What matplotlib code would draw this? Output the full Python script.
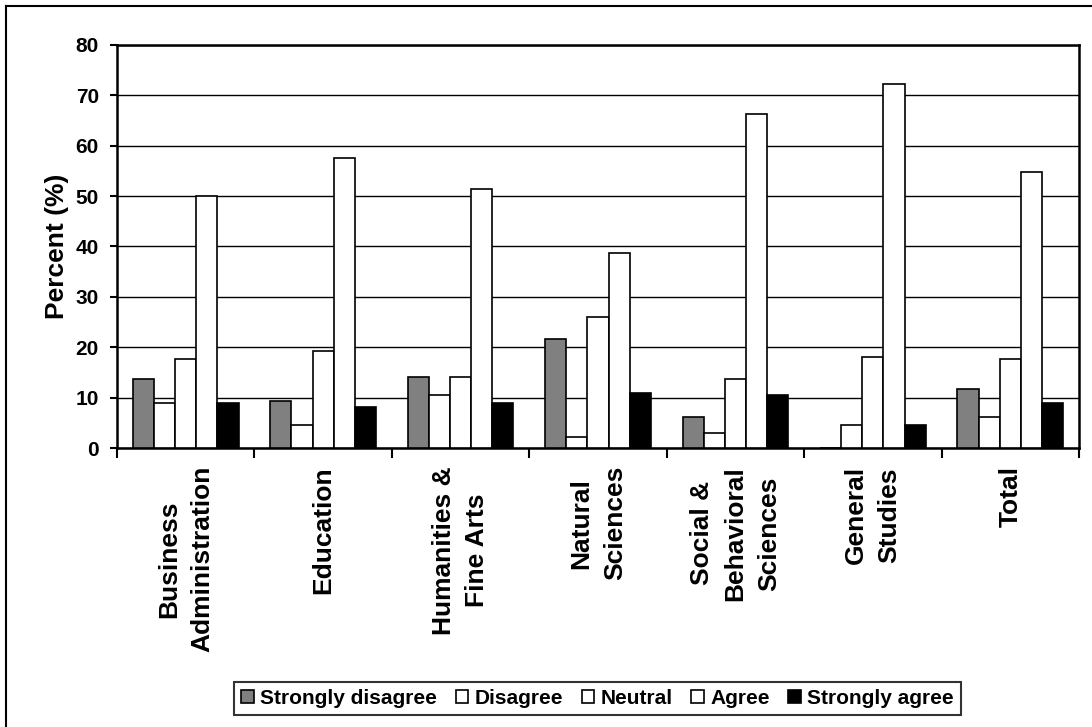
import numpy as np
import matplotlib
matplotlib.use("Agg")
import matplotlib.pyplot as plt
from matplotlib.lines import Line2D

plt.rcParams["font.family"] = ["Liberation Sans", "DejaVu Sans"]
plt.rcParams["font.weight"] = "bold"
plt.rcParams["axes.labelweight"] = "bold"

# survey answers by college, percent
colleges = [
    "Business\nAdministration",
    "Education",
    "Humanities &\nFine Arts",
    "Natural\nSciences",
    "Social &\nBehavioral\nSciences",
    "General\nStudies",
    "Total",
]
answers = ["Strongly disagree", "Disagree", "Neutral", "Agree", "Strongly agree"]
strongly_disagree = [13.7, 9.4, 14.1, 21.7, 6.2, 0.0, 11.7]
disagree = [9.0, 4.6, 10.5, 2.2, 3.0, 4.6, 6.2]
neutral = [17.7, 19.3, 14.1, 26.1, 13.7, 18.1, 17.7]
agree = [50.0, 57.6, 51.5, 38.8, 66.3, 72.2, 54.7]
strongly_agree = [9.0, 8.2, 9.0, 10.9, 10.5, 4.6, 9.0]

series = [strongly_disagree, disagree, neutral, agree, strongly_agree]
fills = ["#808080", "white", "white", "white", "black"]

fig = plt.figure(figsize=(10.92, 7.27), dpi=100)
ax = fig.add_axes([117 / 1092, 1 - 448 / 727, (1079 - 117) / 1092, (448 - 45) / 727])

x = np.arange(len(colleges))
w = 1 / 6.5
for j, (vals, col) in enumerate(zip(series, fills)):
    ax.bar(x + (j - 2) * w, vals, width=w, color=col, edgecolor="black",
           linewidth=1.2, label=answers[j], zorder=3)

ax.set_xlim(-0.5, len(colleges) - 0.5)
ax.set_ylim(0, 80)
ax.set_yticks(range(0, 81, 10))
ax.yaxis.grid(True, color="black", linewidth=1.0, zorder=0)
ax.tick_params(axis="y", labelsize=15, length=5, width=1.5, pad=8)

ax.set_xticks(x)
ax.set_xticklabels(colleges, rotation=90, fontsize=19, ha="center", va="top",
                   multialignment="center", linespacing=1.5)
ax.tick_params(axis="x", length=0, pad=13)
ax.set_xticks(np.arange(-0.5, len(colleges)), minor=True)
ax.tick_params(axis="x", which="minor", length=7, width=1.5)

for s in ax.spines.values():
    s.set_linewidth(1.8)

ax.set_ylabel("Percent (%)", fontsize=19, labelpad=5)

leg = fig.legend(loc="center", bbox_to_anchor=(597.5 / 1092, 1 - 698.5 / 727), ncol=5,
                 fontsize=15, frameon=True, fancybox=False, edgecolor="black",
                 handlelength=0.6, handleheight=0.6, handletextpad=0.3,
                 columnspacing=0.9, borderpad=0.35, borderaxespad=0)
leg.get_frame().set_linewidth(1.5)

# outer chart border (left and top visible)
fig.add_artist(Line2D([6 / 1092, 6 / 1092], [0, 1 - 6 / 727], color="black", linewidth=1.5))
fig.add_artist(Line2D([6 / 1092, 1], [1 - 6 / 727, 1 - 6 / 727], color="black", linewidth=1.5))

fig.savefig("out.png", dpi=100)
